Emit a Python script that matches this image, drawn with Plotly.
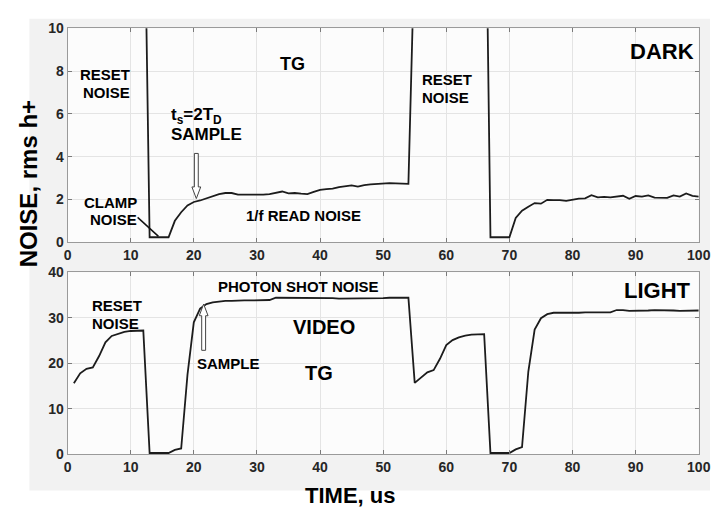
import plotly.graph_objects as go

# ---- data: noise versus time, sampled every 1 us ----
time_us = list(range(1, 101))

# dark frame (reset-noise segments run far above the 0-10 window)
noise_dark = [
    14.0, 15.5, 16.3, 16.6, 17.5, 18.6, 19.2, 19.5, 19.7, 19.8,
    19.9, 19.8, 0.23, 0.23, 0.23, 0.23, 1.00, 1.40, 1.72, 1.88,
    1.95, 2.05, 2.15, 2.25, 2.30, 2.30, 2.22, 2.22, 2.23, 2.20,
    2.22, 2.25, 2.30, 2.37, 2.28, 2.30, 2.27, 2.25, 2.35, 2.45,
    2.48, 2.50, 2.58, 2.62, 2.66, 2.60, 2.67, 2.70, 2.73, 2.76,
    2.76, 2.75, 2.74, 2.73, 14.0, 16.5, 17.5, 18.2, 19.5, 20.5,
    21.2, 21.7, 22.0, 22.3, 22.5, 22.5, 0.23, 0.23, 0.23, 0.23,
    1.13, 1.47, 1.66, 1.83, 1.80, 1.98, 1.97, 1.97, 1.93, 2.00,
    2.04, 2.05, 2.20, 2.10, 2.12, 2.10, 2.12, 2.17, 2.03, 2.16,
    2.13, 2.19, 2.08, 2.07, 2.07, 2.19, 2.13, 2.28, 2.17, 2.13,
]

# illuminated frame
noise_light = [
    15.6, 17.8, 18.8, 19.1, 21.6, 24.6, 26.0, 26.5, 26.9, 27.1,
    27.2, 27.2, 0.3, 0.3, 0.3, 0.3, 1.0, 1.3, 17.5, 29.0,
    32.0, 33.0, 33.4, 33.6, 33.7, 33.7, 33.8, 33.8, 33.8, 33.8,
    33.9, 33.9, 34.4, 34.4, 34.4, 34.4, 34.4, 34.4, 34.4, 34.3,
    34.3, 34.3, 34.2, 34.2, 34.2, 34.3, 34.3, 34.3, 34.3, 34.3,
    34.4, 34.4, 34.4, 34.4, 15.7, 16.8, 18.0, 18.5, 21.0, 24.0,
    25.1, 25.7, 26.1, 26.3, 26.4, 26.4, 0.3, 0.3, 0.3, 0.3,
    1.1, 1.6, 18.2, 27.4, 29.9, 30.8, 31.1, 31.1, 31.1, 31.0,
    31.1, 31.2, 31.2, 31.2, 31.2, 31.2, 31.7, 31.7, 31.5, 31.5,
    31.6, 31.6, 31.7, 31.7, 31.7, 31.6, 31.5, 31.5, 31.6, 31.6,
]

x_ticks = list(range(0, 101, 10))
dark_ticks = [0, 2, 4, 6, 8, 10]
light_ticks = [0, 10, 20, 30, 40]

# ---- layout geometry ----
W, H = 722, 515
X_DOM = (65 / W, 710.5 / W)
Y_DOM_DARK = ((H - 241.7) / H, (H - 21) / H)
Y_DOM_LIGHT = ((H - 460.7) / H, (H - 272.7) / H)

FONT = "Liberation Sans, Arial, sans-serif"
INK = "#000000"

px_per_x = (X_DOM[1] - X_DOM[0]) * W / 100.0
px_per_y_dark = (Y_DOM_DARK[1] - Y_DOM_DARK[0]) * H / 10.0
px_per_y_light = (Y_DOM_LIGHT[1] - Y_DOM_LIGHT[0]) * H / 40.0


def hollow_arrow(x, y_tip, y_tail, ppy, shaft_w=4.0, head_w=9.0, head_len=12.0):
    """Outline path of a vertical block arrow in data coordinates."""
    d = 1 if y_tail > y_tip else -1
    hx = head_w / 2 / px_per_x
    sx = shaft_w / 2 / px_per_x
    hb = y_tip + d * head_len / ppy
    pts = [(x, y_tip), (x + hx, hb), (x + sx, hb), (x + sx, y_tail),
           (x - sx, y_tail), (x - sx, hb), (x - hx, hb)]
    return "M " + " L ".join(f"{a:.4f},{b:.4f}" for a, b in pts) + " Z"


fig = go.Figure()
fig.add_trace(go.Scatter(x=time_us, y=noise_dark, mode="lines",
                         line=dict(color="#1c1c1c", width=1.8),
                         xaxis="x", yaxis="y", showlegend=False))
fig.add_trace(go.Scatter(x=time_us, y=noise_light, mode="lines",
                         line=dict(color="#1c1c1c", width=1.8),
                         xaxis="x2", yaxis="y2", showlegend=False))

axis_common = dict(
    showgrid=True, gridcolor="#e4e4e4", gridwidth=1,
    showline=True, linecolor="#9a9a9a", linewidth=1, mirror="ticks",
    ticks="inside", ticklen=4, tickcolor="#7a7a7a",
    zeroline=False,
    tickfont=dict(family=FONT, size=14, color="#262626", weight="bold"),
)

fig.update_layout(
    width=W, height=H,
    margin=dict(l=0, r=0, t=0, b=0),
    paper_bgcolor="white",
    plot_bgcolor="rgba(0,0,0,0)",
    xaxis=dict(domain=X_DOM, range=[0, 100], tickvals=x_ticks, anchor="y",
               ticklabeloverflow="allow", **axis_common),
    yaxis=dict(domain=Y_DOM_DARK, range=[0, 10], tickvals=dark_ticks, anchor="x", **axis_common),
    xaxis2=dict(domain=X_DOM, range=[0, 100], tickvals=x_ticks, anchor="y2",
                ticklabeloverflow="allow", **axis_common),
    yaxis2=dict(domain=Y_DOM_LIGHT, range=[0, 40], tickvals=light_ticks, anchor="x2", **axis_common),
)

# figure backdrop and white axes areas
shapes = [
    dict(type="rect", xref="paper", yref="paper", x0=26 / W, x1=1.0,
         y0=(H - 498) / H, y1=(H - 11) / H, fillcolor="#f2f2f2",
         line=dict(width=0), layer="below"),
    dict(type="rect", xref="paper", yref="paper", x0=X_DOM[0], x1=X_DOM[1],
         y0=Y_DOM_DARK[0], y1=Y_DOM_DARK[1], fillcolor="#fcfcfc",
         line=dict(width=0), layer="below"),
    dict(type="rect", xref="paper", yref="paper", x0=X_DOM[0], x1=X_DOM[1],
         y0=Y_DOM_LIGHT[0], y1=Y_DOM_LIGHT[1], fillcolor="#fcfcfc",
         line=dict(width=0), layer="below"),
    # sample arrows
    dict(type="path", xref="x", yref="y",
         path=hollow_arrow(20.4, 2.04, 4.15, px_per_y_dark),
         fillcolor="white", line=dict(color="#444444", width=1)),
    dict(type="path", xref="x2", yref="y2",
         path=hollow_arrow(21.56, 33.0, 22.85, px_per_y_light),
         fillcolor="white", line=dict(color="#444444", width=1)),
    # clamp noise leader
    dict(type="line", xref="x", yref="y", x0=11.1, y0=1.16, x1=14.4, y1=0.27,
         line=dict(color="#111111", width=1.5)),
]
fig.update_layout(shapes=shapes)


def label(text, x, y, size, xref="x", yref="y", xanchor="center", yanchor="middle", **kw):
    return dict(text=text, x=x, y=y, xref=xref, yref=yref, showarrow=False,
                xanchor=xanchor, yanchor=yanchor,
                font=dict(family=FONT, size=size, color=INK, weight="bold"), **kw)


annotations = [
    # dark panel
    label("RESET", 6.0, 7.82, 15),
    label("NOISE", 6.2, 6.98, 15),
    label("TG", 35.6, 8.31, 18),
    label("t<sub>s</sub>=2T<sub>D</sub>", 16.0, 5.92, 17, xanchor="left"),
    label("SAMPLE", 16.0, 5.02, 17, xanchor="left"),
    label("CLAMP", 6.8, 1.84, 15),
    label("NOISE", 7.3, 1.04, 15),
    label("1/f READ NOISE", 37.4, 1.25, 15),
    label("RESET", 55.9, 7.6, 15, xanchor="left"),
    label("NOISE", 55.9, 6.78, 15, xanchor="left"),
    label("DARK", 94.2, 8.91, 22),
    # light panel
    label("RESET", 3.6, 32.6, 15, xref="x2", yref="y2", xanchor="left"),
    label("NOISE", 3.6, 28.7, 15, xref="x2", yref="y2", xanchor="left"),
    label("PHOTON SHOT NOISE", 36.56, 36.85, 15, xref="x2", yref="y2"),
    label("VIDEO", 40.7, 28.0, 20, xref="x2", yref="y2"),
    label("SAMPLE", 25.5, 20.0, 15, xref="x2", yref="y2"),
    label("TG", 39.8, 17.9, 20, xref="x2", yref="y2"),
    label("LIGHT", 93.5, 36.0, 22, xref="x2", yref="y2"),
    # axis titles
    label("NOISE, rms h+", 25 / W, (H - 181.5) / H, 24, xref="paper", yref="paper",
          textangle=-90),
    label("TIME, us", 354 / W, (H - 503) / H, 22, xref="paper", yref="paper"),
]
fig.update_layout(annotations=annotations)

fig.write_html("out.html")
